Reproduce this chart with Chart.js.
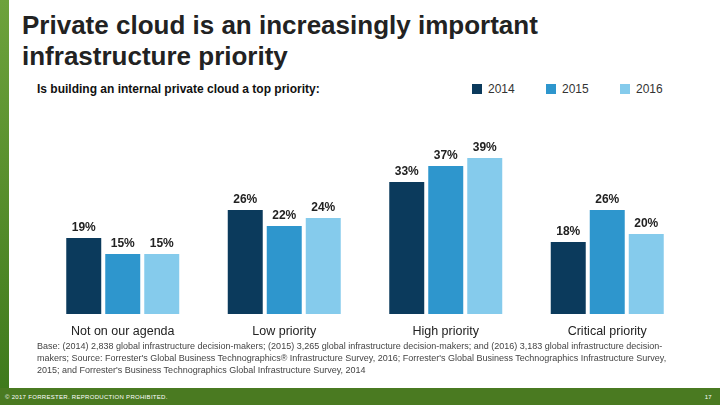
<!DOCTYPE html>
<html>
<head>
<meta charset="utf-8">
<script src="https://cdn.jsdelivr.net/npm/chart.js@4"></script>
<style>
  html, body { margin: 0; padding: 0; }
  body { width: 720px; height: 405px; position: relative; overflow: hidden; background: #fff; font-family: "Liberation Sans", Arial, sans-serif; }
  .side { position: absolute; left: 0; top: 0; width: 9px; height: 388px; background: linear-gradient(#6ea23c, #3f7a1c); }
  .title { position: absolute; left: 22px; top: 10px; font-size: 26px; font-weight: bold; line-height: 31px; color: #222; }
  .subtitle { position: absolute; left: 37px; top: 82px; font-size: 12px; font-weight: bold; color: #111; }
  .legend { position: absolute; top: 82px; font-size: 12px; color: #333; }
  .legend span { display: inline-block; width: 10px; height: 10px; margin-right: 6px; vertical-align: -1px; }
  .note { position: absolute; left: 37px; top: 340px; width: 640px; font-size: 9px; line-height: 12px; color: #444; }
  .footer { position: absolute; left: 0; top: 388px; width: 720px; height: 17px; background: #4a7a21; color: #fff; font-size: 6px; letter-spacing: 0.3px; }
  #wrap { position: absolute; left: 0; top: 101px; width: 720px; height: 249px; }
</style>
</head>
<body>
<div class="side"></div>
<div class="title">Private cloud is an increasingly important<br>infrastructure priority</div>
<div class="subtitle">Is building an internal private cloud a top priority:</div>
<div id="legend"></div>
<div id="wrap"><canvas id="chart"></canvas></div>
<div class="note">Base: (2014) 2,838 global infrastructure decision-makers; (2015) 3,265 global infrastructure decision-makers; and (2016) 3,183 global infrastructure decision-makers; Source: Forrester's Global Business Technographics® Infrastructure Survey, 2016; Forrester's Global Business Technographics Infrastructure Survey, 2015; and Forrester's Business Technographics Global Infrastructure Survey, 2014</div>
<div class="footer"><span style="position:absolute;left:5px;top:6px;">© 2017 FORRESTER. REPRODUCTION PROHIBITED.</span><span style="position:absolute;right:8px;top:6px;">17</span></div>
<script>
const categories = ['Not on our agenda', 'Low priority', 'High priority', 'Critical priority'];
const years = ['2014', '2015', '2016'];
const values2014 = [19, 26, 33, 18];
const values2015 = [15, 22, 37, 26];
const values2016 = [15, 24, 39, 20];
const yearColors = ['#0b3a5c', '#2e96cd', '#85cbec'];

// html legend
const legendX = [472, 546, 620];
const legendBox = document.getElementById('legend');
years.forEach(function(y, i) {
  const d = document.createElement('div');
  d.className = 'legend';
  d.style.left = legendX[i] + 'px';
  d.innerHTML = '<span style="background:' + yearColors[i] + '"></span>' + y;
  legendBox.appendChild(d);
});

// value labels above each bar
const valueLabels = {
  id: 'valueLabels',
  afterDatasetsDraw: function(chart) {
    const ctx = chart.ctx;
    ctx.save();
    ctx.font = 'bold 12px "Liberation Sans", Arial, sans-serif';
    ctx.fillStyle = '#222';
    ctx.textAlign = 'center';
    ctx.textBaseline = 'bottom';
    chart.data.datasets.forEach(function(ds, i) {
      chart.getDatasetMeta(i).data.forEach(function(bar, j) {
        ctx.fillText(ds.data[j] + '%', bar.x, bar.y - 4);
      });
    });
    ctx.restore();
  }
};

new Chart(document.getElementById('chart'), {
  type: 'bar',
  data: {
    labels: categories,
    datasets: [
      { label: years[0], data: values2014, backgroundColor: yearColors[0] },
      { label: years[1], data: values2015, backgroundColor: yearColors[1] },
      { label: years[2], data: values2016, backgroundColor: yearColors[2] }
    ]
  },
  options: {
    responsive: true,
    maintainAspectRatio: false,
    animation: false,
    categoryPercentage: 0.7245,
    barPercentage: 0.897,
    layout: { padding: { left: 42, right: 32, top: 33, bottom: 1 } },
    plugins: { legend: { display: false }, tooltip: { enabled: false } },
    scales: {
      x: {
        grid: { display: false, drawTicks: false },
        border: { display: false },
        ticks: { color: '#222', padding: 10, font: { family: '"Liberation Sans", Arial, sans-serif', size: 12.5 } }
      },
      y: {
        display: false,
        min: 0,
        max: 45
      }
    }
  },
  plugins: [valueLabels]
});
</script>
</body>
</html>
